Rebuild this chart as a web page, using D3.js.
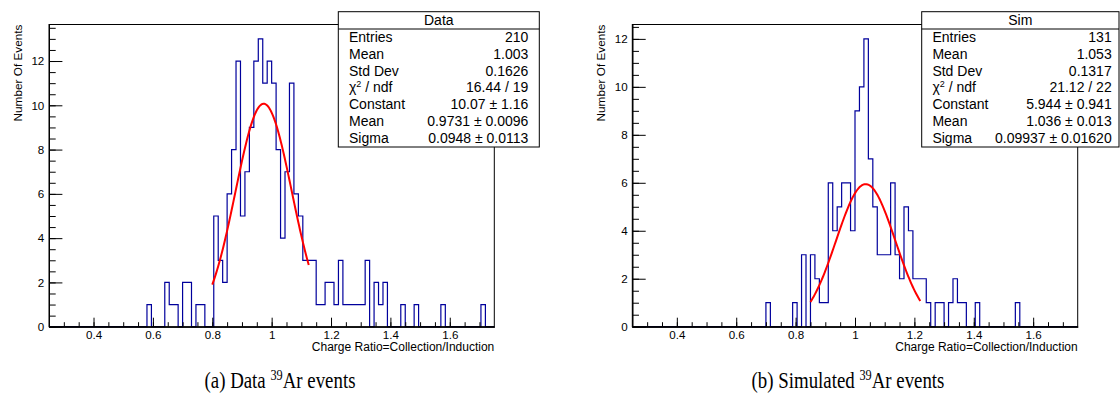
<!DOCTYPE html>
<html>
<head>
<meta charset="utf-8">
<script src="https://cdn.jsdelivr.net/npm/d3@7"></script>
<style>
  body { margin: 0; background: #fff; }
  text { font-family: 'Liberation Sans', Arial, sans-serif; fill: #000; }
  text.caption { font-family: 'Liberation Serif', 'Times New Roman', serif; }
</style>
</head>
<body>
<svg id="chart" width="1120" height="400"></svg>
<script>
// histogram binning (100 bins from 0.25 to 1.75)
const xMin = 0.25, xMax = 1.75, nBins = 100;

// bin contents, bin 0 .. 99
const dataCounts = [
  0,0,0,0,0,0,0,0,0,0, 0,0,0,0,0,0,0,0,0,0,
  0,0,1,0,0,0,2,1,1,0, 2,2,0,1,1,0,0,5,3,2,
  6,8,12,5,7,9,12,13,11,12, 11,8,4,7,11,6,5,3,3,3,
  1,1,2,2,1,3,1,1,1,1, 1,3,0,2,1,2,0,0,0,1,
  0,0,1,0,0,0,0,0,1,0, 0,0,0,0,0,0,0,1,0,0
];
const simCounts = [
  0,0,0,0,0,0,0,0,0,0, 0,0,0,0,0,0,0,0,0,0,
  0,0,0,0,0,0,0,0,0,0, 1,0,0,0,0,0,1,0,3,0,
  3,2,1,1,6,4,5,6,6,4, 9,10,12,7,5,3,3,3,6,3,
  2,5,4,2,2,2,1,0,1,1, 0,1,2,1,1,0,0,1,0,0,
  0,0,0,0,0,0,1,0,0,0, 0,0,0,0,0,0,0,0,0,0
];

// gaussian fit: constant, mean, sigma and fit range
const dataFit = [10.07, 0.9731, 0.0948];
const dataFitRange = [0.8, 1.125];
const simFit = [5.944, 1.036, 0.09937];
const simFitRange = [0.85, 1.22];

// stats box rows
const dataStatNames = ['Entries', 'Mean', 'Std Dev', 'chi2', 'Constant', 'Mean', 'Sigma'];
const dataStatValues = ['210', '1.003', '0.1626', '16.44 / 19', '10.07 \u00b1 1.16', '0.9731 \u00b1 0.0096', '0.0948 \u00b1 0.0113'];
const simStatValues = ['131', '1.053', '0.1317', '21.12 / 22', '5.944 \u00b1 0.941', '1.036 \u00b1 0.013', '0.09937 \u00b1 0.01620'];

const xTicks = [0.4, 0.6, 0.8, 1.0, 1.2, 1.4, 1.6];
const yTicks = [0, 2, 4, 6, 8, 10, 12];

const svg = d3.select('#chart');
const frameTop = 24.5, frameBottom = 326.7;

function makePanel(opt) {
  let binWidth = (xMax - xMin) / nBins;
  let x = d3.scaleLinear().domain([xMin, xMax]).range([opt.left, opt.right]);
  let y = d3.scaleLinear().domain([0, opt.yMax]).range([frameBottom, frameTop]);
  let g = svg.append('g');

  // histogram outline
  let pts = [[xMin, 0]];
  opt.counts.forEach(function(c, i) {
    let lo = xMin + i * binWidth;
    pts.push([lo, c], [lo + binWidth, c]);
  });
  pts.push([xMax, 0]);
  g.append('path')
    .attr('d', d3.line().x(function(d) { return x(d[0]); }).y(function(d) { return y(d[1]); })(pts))
    .attr('fill', 'none')
    .attr('stroke', '#00009c')
    .attr('stroke-width', 1.2);

  // fit curve
  let f = opt.fit;
  let curve = d3.range(0, 101).map(function(k) {
    let xv = opt.fitRange[0] + (opt.fitRange[1] - opt.fitRange[0]) * k / 100;
    return [xv, f[0] * Math.exp(-0.5 * Math.pow((xv - f[1]) / f[2], 2))];
  });
  g.append('path')
    .attr('d', d3.line().x(function(d) { return x(d[0]); }).y(function(d) { return y(d[1]); })(curve))
    .attr('fill', 'none')
    .attr('stroke', '#ff0000')
    .attr('stroke-width', 2);

  // frame
  g.append('rect')
    .attr('x', opt.left).attr('y', frameTop)
    .attr('width', opt.right - opt.left).attr('height', frameBottom - frameTop)
    .attr('fill', 'none').attr('stroke', '#000').attr('stroke-width', 1);

  // x axis
  let xMinor = d3.range(6, 35).map(function(k) { return k * 0.05; });
  g.append('g').attr('transform', 'translate(0,' + frameBottom + ')')
    .call(d3.axisBottom(x).tickValues(xMinor).tickSize(-4.5).tickSizeOuter(0).tickFormat(''));
  g.append('g').attr('transform', 'translate(0,' + frameBottom + ')')
    .call(d3.axisBottom(x).tickValues(xTicks).tickSize(-9).tickSizeOuter(0).tickPadding(4.5)
      .tickFormat(function(d) { return d3.format('~g')(d); }));

  // y axis
  let yMinor = d3.range(0, Math.floor(opt.yMax * 2) + 1).map(function(k) { return k * 0.5; });
  g.append('g').attr('transform', 'translate(' + opt.left + ',0)')
    .call(d3.axisLeft(y).tickValues(yMinor).tickSize(-6.7).tickSizeOuter(0).tickFormat(''));
  g.append('g').attr('transform', 'translate(' + opt.left + ',0)')
    .call(d3.axisLeft(y).tickValues(yTicks).tickSize(-13.4).tickSizeOuter(0).tickPadding(4.7));

  g.selectAll('.domain').attr('stroke', '#000');
  g.selectAll('.tick line').attr('stroke', '#000');
  g.selectAll('.tick text')
    .attr('font-size', 11.6)
    .attr('fill', '#000');

  // axis titles
  g.append('text')
    .attr('transform', 'translate(' + opt.yLabelX + ',' + frameTop + ') rotate(-90)')
    .attr('text-anchor', 'end')
    .attr('font-size', 11.8)
    .text('Number Of Events');
  g.append('text')
    .attr('x', opt.right).attr('y', 351.3)
    .attr('text-anchor', 'end')
    .attr('font-size', 12)
    .text('Charge Ratio=Collection/Induction');

  // stats box
  let bx0 = opt.box[0], bx1 = opt.box[1], by0 = 11.7, by1 = 147;
  g.append('rect')
    .attr('x', bx0).attr('y', by0).attr('width', bx1 - bx0).attr('height', by1 - by0)
    .attr('fill', '#fff').attr('stroke', '#000').attr('stroke-width', 1);
  g.append('line')
    .attr('x1', bx0).attr('x2', bx1).attr('y1', 29).attr('y2', 29)
    .attr('stroke', '#000').attr('stroke-width', 1);
  g.append('text')
    .attr('x', (bx0 + bx1) / 2).attr('y', 25)
    .attr('text-anchor', 'middle').attr('font-size', 14)
    .text(opt.title);
  for (let i = 0; i < dataStatNames.length; i++) {
    let ty = 41.7 + i * 16.93;
    let name = g.append('text').attr('x', bx0 + 10.7).attr('y', ty).attr('font-size', 14);
    if (dataStatNames[i] === 'chi2') {
      name.append('tspan').text('\u03c7');
      name.append('tspan').attr('font-size', 9).attr('dy', -5).text('2');
      name.append('tspan').attr('dy', 5).text(' / ndf');
    } else {
      name.text(dataStatNames[i]);
    }
    g.append('text')
      .attr('x', opt.valueX).attr('y', ty)
      .attr('text-anchor', 'end').attr('font-size', 14)
      .text(opt.values[i]);
  }

  // caption (condensed serif, as in the paper figure)
  let cap = g.append('text')
    .attr('class', 'caption')
    .attr('transform', 'translate(' + opt.captionX + ',388) scale(0.82,1)')
    .attr('text-anchor', 'middle')
    .attr('font-size', 23);
  cap.append('tspan').text(opt.caption[0] + ' ');
  cap.append('tspan').attr('font-size', 15).attr('dy', -8).text('39');
  cap.append('tspan').attr('dy', 8).text(opt.caption[1]);
}

makePanel({
  counts: dataCounts, fit: dataFit, fitRange: dataFitRange,
  left: 49, right: 494.3, yMax: 13.65, yLabelX: 21.5,
  box: [338.3, 539.3], valueX: 528.3, title: 'Data', values: dataStatValues,
  captionX: 280, caption: ['(a) Data', 'Ar events']
});

makePanel({
  counts: simCounts, fit: simFit, fitRange: simFitRange,
  left: 632.3, right: 1077.7, yMax: 12.6, yLabelX: 605,
  box: [921.7, 1119], valueX: 1111.7, title: 'Sim', values: simStatValues,
  captionX: 848, caption: ['(b) Simulated', 'Ar events']
});
</script>
</body>
</html>
